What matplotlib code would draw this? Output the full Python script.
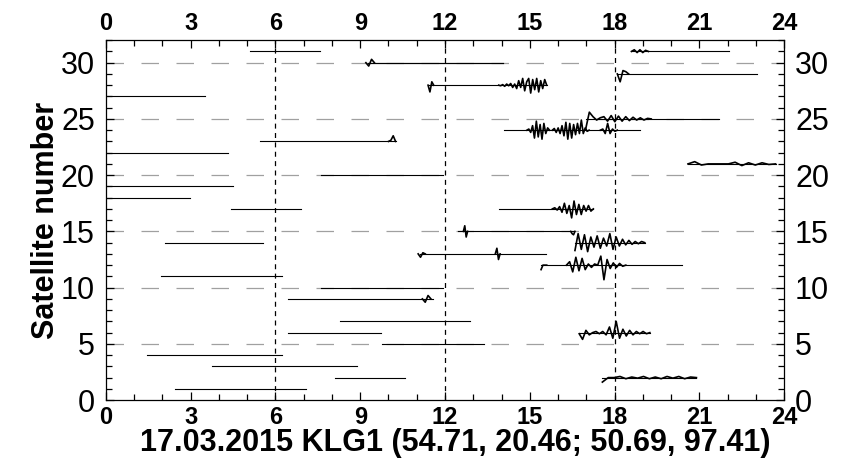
import numpy as np
import matplotlib
matplotlib.use("Agg")
import matplotlib.pyplot as plt
from matplotlib.ticker import MultipleLocator

# satellite tracks: PRN, start hour, end hour
prn = [31, 30, 29, 28, 27, 25, 24, 23, 22, 21, 20, 19, 18, 17, 17,
       15, 14, 14, 13, 12, 11, 10, 9, 7, 6, 6, 5, 4, 3, 2, 2, 1, 31, 30]
t_start = [5.1, 9.28, 18.1, 11.45, 0.0, 16.98, 14.1, 5.44, 0.0, 20.6, 7.6, 0.0, 0.0, 4.44, 13.9,
           12.45, 2.1, 16.6, 11.1, 15.4, 1.94, 7.6, 6.44, 8.27, 6.44, 16.75, 9.78, 1.44, 3.77, 8.09, 17.57, 2.44, 18.6, 9.28]
t_end = [7.56, 14.04, 23.05, 15.6, 3.5, 21.7, 18.9, 10.25, 4.33, 23.7, 11.92, 4.5, 2.99, 6.9, 17.25,
         16.57, 5.56, 19.07, 15.57, 20.4, 6.24, 11.92, 11.57, 12.9, 9.74, 19.25, 13.39, 6.24, 8.89, 10.57, 20.9, 7.07, 22.05, 14.04]

# disturbances: PRN, from hour, to hour, offsets (satellite units)
bursts = [
    (28, 13.9, 15.6, [0, -0.05, 0.05, -0.1, 0.1, -0.05, 0.15, -0.2, 0.1, -0.3, 0.4, -0.2,
                      0.6, -0.5, 0.3, 0.6, -0.7, 0.5, -0.4, 0.6, -0.6, 0.4, -0.3, 0.5, 0]),
    (24, 14.9, 15.7, [0, 0.1, -0.2, 0.4, -0.7, 0.8, -0.6, 0.5, -0.8, 0.6, -0.3, 0.2, 0]),
    (24, 15.8, 17.1, [0, 0.15, -0.2, 0.2, -0.3, 0.4, -0.5, 0.7, -0.8, 0.6, -0.7, 0.5, -0.4,
                      0.6, -0.3, 0.9, -0.3, 0.2, -0.1, 0]),
    (24, 17.5, 18.1, [0, 0.1, -0.3, 0.6, -0.3, 0.1, -0.1, 0]),
    (25, 16.98, 19.3, [-0.9, 0.6, 0.2, -0.1, 0.1, 0.2, -0.2, 0.3, -0.25, 0.25, -0.2, 0.2,
                       -0.15, 0.15, -0.1, 0.1, -0.1, 0.05, 0]),
    (17, 15.8, 17.25, [0, 0.1, -0.1, 0.2, -0.3, 0.5, -0.4, 0.3, -0.8, 0.7, -0.5, 0.4,
                       -0.5, 0.3, -0.2, 0.3, -0.2, 0]),
    (14, 16.6, 19.07, [-0.7, 0.8, -0.6, 0.7, -0.8, 0.5, -0.4, 0.6, -0.5, 0.4, -0.3, 0.8,
                       -0.6, 0.5, -0.3, 0.3, -0.2, 0.2, -0.15, 0.1, -0.1, 0.1, 0]),
    (12, 16.3, 18.4, [0, 0.3, -0.6, 0.7, -0.5, 0.6, -0.4, 0.1, -0.2, 0.1, 0, 0.8, -1.3,
                      0.5, -0.3, 0.2, -0.2, 0.15, -0.1, 0]),
    (6, 16.75, 19.25, [-0.1, -0.6, 0.2, -0.2, 0, 0.1, -0.1, 0.1, -0.2, 0.5, -0.5, 1.0, -0.5,
                       0.3, -0.3, 0.2, -0.2, 0.1, -0.1, 0.1, -0.1, 0]),
    (2, 17.57, 20.9, [-0.4, 0, 0, 0.1, -0.1, 0.05, -0.05, 0.1, -0.1, 0.05, -0.1, 0.1,
                      -0.05, 0.1, -0.1, 0.05, 0]),
    (31, 18.6, 19.2, [0, 0.15, -0.1, 0.15, -0.1, 0.1, 0]),
    (29, 18.1, 18.5, [0, -0.7, 0.3, 0.2, 0]),
    (21, 20.6, 23.7, [0, 0.2, -0.1, 0, 0, 0, 0, 0.15, -0.15, 0.1, -0.1, 0.1, -0.05, 0]),
    (30, 9.2, 9.5, [0, -0.3, 0.3, 0]),
    (28, 11.4, 11.6, [0, -0.6, 0.3, 0]),
    (13, 11.05, 11.3, [0, -0.3, 0.1, 0]),
    (13, 13.78, 13.95, [0, 0.5, -0.5, 0]),
    (15, 12.65, 12.8, [0, 0.5, -0.5, 0]),
    (15, 16.45, 16.6, [0, -0.2, -0.3, 0]),
    (23, 10.0, 10.25, [0, 0.1, 0.5, 0]),
    (12, 15.4, 15.6, [-0.4, 0, 0, 0]),
    (9, 11.2, 11.5, [0, -0.3, 0.3, 0]),
]

x_major = [0, 3, 6, 9, 12, 15, 18, 21, 24]
y_major = [0, 5, 10, 15, 20, 25, 30]
title = "17.03.2015 KLG1 (54.71, 20.46; 50.69, 97.41)"

sans = ["Liberation Sans", "DejaVu Sans"]

fig = plt.figure(figsize=(8.52, 4.62), dpi=100)
ax = fig.add_axes([0.1244, 0.134, 0.7958, 0.779])

for y in y_major[1:]:
    ax.axhline(y, color="#a0a0a0", lw=0.9, dashes=(14, 14), zorder=1)
for x in [6, 12, 18]:
    ax.axvline(x, color="black", lw=0.9, dashes=(4, 3.5), zorder=2)

for p, a, b in zip(prn, t_start, t_end):
    ax.plot([a, b], [p, p], color="black", lw=0.8, zorder=3)

for p, a, b, offs in bursts:
    xs = np.linspace(a, b, len(offs))
    ax.plot(xs, p + np.array(offs), color="black", lw=1.2, zorder=4)

ax.set_xlim(0, 24)
ax.set_ylim(0, 32)
ax.set_xticks(x_major)
ax.set_yticks(y_major)
ax.xaxis.set_minor_locator(MultipleLocator(1))
ax.yaxis.set_minor_locator(MultipleLocator(1))
ax.tick_params(which="both", direction="in", top=True, right=True,
               labeltop=True, labelright=True, width=0.9)
ax.tick_params(which="major", length=6)
ax.tick_params(which="minor", length=4)
ax.tick_params(axis="y", labelsize=22, pad=8)
ax.tick_params(axis="x", labelsize=17, pad=4)
for lab in ax.get_xticklabels(which="both"):
    lab.set_fontfamily(sans)
    lab.set_fontweight("bold")
for lab in ax.get_yticklabels(which="both"):
    lab.set_fontfamily(sans)
for s in ax.spines.values():
    s.set_linewidth(0.9)

ax.set_ylabel("Satellite number", fontsize=22, fontweight="bold", family=sans, labelpad=0)
fig.text(0.534, 0.008, title, fontsize=22, fontweight="bold", family=sans,
         ha="center", va="bottom")

fig.savefig("out.png", dpi=100)
